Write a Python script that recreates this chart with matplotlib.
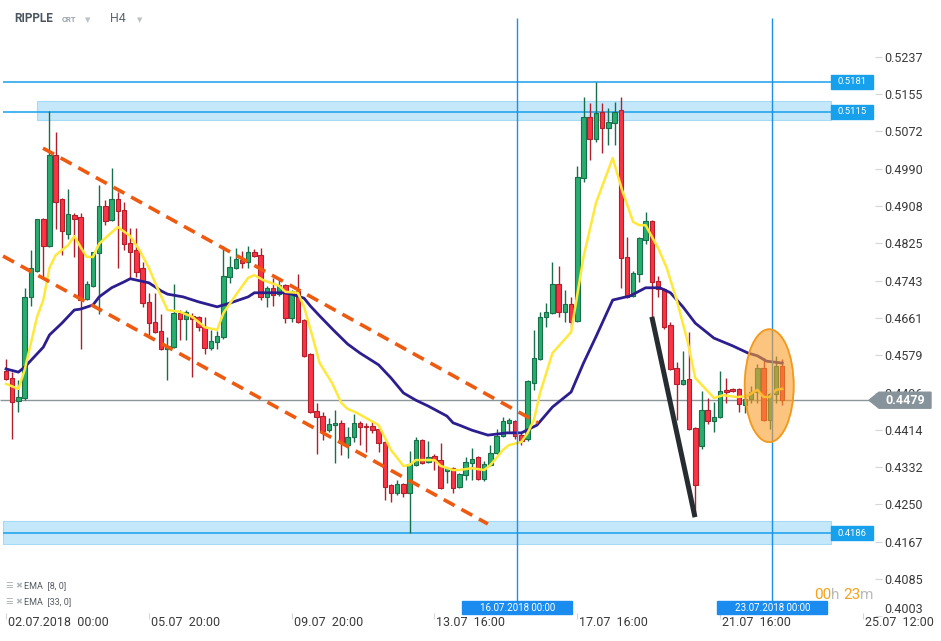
import numpy as np
import matplotlib.pyplot as plt
from matplotlib.patches import Rectangle, Ellipse, Polygon
from matplotlib import transforms

plt.rcParams['font.family'] = ['Roboto', 'DejaVu Sans']
plt.rcParams['lines.scale_dashes'] = False

# RIPPLE H4 candles
opens = [0.4543, 0.4528, 0.4477, 0.4484, 0.4707, 0.4764, 0.4879, 0.4819, 0.5020, 0.4923,
         0.4846, 0.4888, 0.4883, 0.4702, 0.4731, 0.4804, 0.4907, 0.4877, 0.4923, 0.4899,
         0.4826, 0.4810, 0.4771, 0.4696, 0.4652, 0.4632, 0.4592, 0.4596, 0.4671, 0.4658,
         0.4665, 0.4663, 0.4640, 0.4594, 0.4607, 0.4618, 0.4751, 0.4771, 0.4788, 0.4784,
         0.4806, 0.4799, 0.4707, 0.4727, 0.4713, 0.4733, 0.4660, 0.4720, 0.4656, 0.4581,
         0.4455, 0.4444, 0.4413, 0.4424, 0.4429, 0.4380, 0.4398, 0.4429, 0.4422, 0.4422,
         0.4415, 0.4387, 0.4292, 0.4274, 0.4294, 0.4274, 0.4336, 0.4391, 0.4343, 0.4356,
         0.4347, 0.4323, 0.4329, 0.4288, 0.4314, 0.4340, 0.4354, 0.4305, 0.4336, 0.4363,
         0.4400, 0.4429, 0.4433, 0.4402, 0.4393, 0.4517, 0.4570, 0.4663, 0.4671, 0.4735,
         0.4674, 0.4691, 0.4654, 0.4969, 0.5104, 0.5055, 0.5115, 0.5079, 0.5091, 0.5119,
         0.4795, 0.4709, 0.4757, 0.4832, 0.4874, 0.4742, 0.4724, 0.4645, 0.4550, 0.4515,
         0.4526, 0.4418, 0.4378, 0.4457, 0.4433, 0.4442, 0.4502, 0.4504, 0.4504, 0.4468,
         0.4482, 0.4497, 0.4550, 0.4435, 0.4493, 0.4554]
highs = [0.4570, 0.4541, 0.4524, 0.4727, 0.4810, 0.4879, 0.4881, 0.5117, 0.5071, 0.4925,
         0.4945, 0.4892, 0.4892, 0.4742, 0.4806, 0.4954, 0.4921, 0.4991, 0.4938, 0.4916,
         0.4859, 0.4859, 0.4784, 0.4716, 0.4716, 0.4669, 0.4618, 0.4735, 0.4678, 0.4678,
         0.4671, 0.4665, 0.4663, 0.4634, 0.4632, 0.4819, 0.4797, 0.4815, 0.4808, 0.4819,
         0.4813, 0.4815, 0.4731, 0.4749, 0.4744, 0.4735, 0.4722, 0.4757, 0.4658, 0.4583,
         0.4473, 0.4453, 0.4440, 0.4457, 0.4435, 0.4420, 0.4449, 0.4433, 0.4429, 0.4433,
         0.4418, 0.4389, 0.4294, 0.4303, 0.4296, 0.4367, 0.4398, 0.4393, 0.4389, 0.4360,
         0.4385, 0.4332, 0.4332, 0.4318, 0.4354, 0.4374, 0.4356, 0.4345, 0.4380, 0.4415,
         0.4442, 0.4440, 0.4435, 0.4409, 0.4524, 0.4634, 0.4674, 0.4693, 0.4784, 0.4775,
         0.4722, 0.4707, 0.4996, 0.5148, 0.5135, 0.5181, 0.5135, 0.5124, 0.5137, 0.5148,
         0.4839, 0.4764, 0.4839, 0.4894, 0.4877, 0.4753, 0.4727, 0.4652, 0.4563, 0.4588,
         0.4629, 0.4420, 0.4499, 0.4484, 0.4475, 0.4543, 0.4528, 0.4506, 0.4506, 0.4495,
         0.4510, 0.4559, 0.4572, 0.4495, 0.4576, 0.4570]
lows = [0.4524, 0.4393, 0.4453, 0.4479, 0.4687, 0.4762, 0.4749, 0.4817, 0.4857, 0.4799,
        0.4835, 0.4795, 0.4592, 0.4700, 0.4729, 0.4669, 0.4866, 0.4874, 0.4771, 0.4810,
        0.4749, 0.4751, 0.4685, 0.4623, 0.4627, 0.4590, 0.4524, 0.4594, 0.4612, 0.4612,
        0.4530, 0.4632, 0.4581, 0.4590, 0.4592, 0.4614, 0.4738, 0.4768, 0.4771, 0.4771,
        0.4795, 0.4700, 0.4685, 0.4687, 0.4709, 0.4649, 0.4652, 0.4649, 0.4574, 0.4451,
        0.4360, 0.4391, 0.4409, 0.4340, 0.4358, 0.4351, 0.4387, 0.4380, 0.4365, 0.4407,
        0.4365, 0.4259, 0.4254, 0.4270, 0.4266, 0.4186, 0.4334, 0.4338, 0.4340, 0.4325,
        0.4283, 0.4296, 0.4274, 0.4285, 0.4303, 0.4303, 0.4303, 0.4301, 0.4334, 0.4360,
        0.4398, 0.4409, 0.4393, 0.4380, 0.4389, 0.4501, 0.4568, 0.4640, 0.4669, 0.4663,
        0.4652, 0.4640, 0.4652, 0.4960, 0.5009, 0.5049, 0.5024, 0.5042, 0.5042, 0.4727,
        0.4704, 0.4707, 0.4740, 0.4824, 0.4663, 0.4707, 0.4636, 0.4546, 0.4435, 0.4512,
        0.4413, 0.4226, 0.4371, 0.4427, 0.4409, 0.4440, 0.4473, 0.4497, 0.4453, 0.4451,
        0.4473, 0.4473, 0.4433, 0.4415, 0.4473, 0.4468]
closes = [0.4526, 0.4475, 0.4486, 0.4707, 0.4771, 0.4879, 0.4819, 0.5020, 0.4916, 0.4852,
          0.4890, 0.4879, 0.4700, 0.4735, 0.4806, 0.4907, 0.4874, 0.4923, 0.4896, 0.4824,
          0.4806, 0.4762, 0.4693, 0.4649, 0.4629, 0.4592, 0.4599, 0.4671, 0.4658, 0.4674,
          0.4658, 0.4640, 0.4594, 0.4610, 0.4621, 0.4753, 0.4773, 0.4790, 0.4782, 0.4806,
          0.4797, 0.4707, 0.4727, 0.4711, 0.4733, 0.4660, 0.4720, 0.4652, 0.4576, 0.4453,
          0.4442, 0.4411, 0.4427, 0.4429, 0.4385, 0.4398, 0.4429, 0.4420, 0.4420, 0.4413,
          0.4385, 0.4288, 0.4274, 0.4294, 0.4274, 0.4338, 0.4391, 0.4340, 0.4354, 0.4347,
          0.4285, 0.4329, 0.4285, 0.4316, 0.4343, 0.4349, 0.4305, 0.4338, 0.4363, 0.4400,
          0.4433, 0.4435, 0.4400, 0.4389, 0.4521, 0.4572, 0.4663, 0.4674, 0.4735, 0.4674,
          0.4691, 0.4652, 0.4971, 0.5104, 0.5055, 0.5113, 0.5079, 0.5093, 0.5115, 0.4793,
          0.4707, 0.4760, 0.4837, 0.4874, 0.4740, 0.4724, 0.4640, 0.4548, 0.4515, 0.4524,
          0.4415, 0.4292, 0.4457, 0.4433, 0.4442, 0.4499, 0.4497, 0.4499, 0.4471, 0.4482,
          0.4497, 0.4550, 0.4435, 0.4493, 0.4554, 0.4479]

# EMA 8 / EMA 33 as drawn (candle index, value)
ema8_idx = [0, 2, 3, 5, 6, 7, 8, 10, 11, 12, 13, 14, 15, 16, 18, 20, 21.5, 23, 24.3, 26,
            28, 30, 32, 34, 35, 37, 39, 40, 41.4, 44, 45, 47, 48, 49.5, 50.5, 52.5, 54, 55, 56.5, 58.6,
            60, 62, 64, 65, 66, 69, 70, 72, 73, 75, 77, 78, 79, 80, 81, 83, 84, 85, 86, 88,
            91, 93, 95, 97.7, 99.2, 101, 102, 103, 105, 106.4, 108, 109.7, 111, 114, 115.5, 117.7,
            119.3, 121, 122, 123, 124, 125]
ema8_val = [0.4515, 0.4504, 0.4546, 0.4663, 0.4700, 0.4771, 0.4799, 0.4821, 0.4841, 0.4817,
            0.4795, 0.4795, 0.4824, 0.4837, 0.4861, 0.4841, 0.4810, 0.4771, 0.4729, 0.4678,
            0.4674, 0.4663, 0.4640, 0.4634, 0.4671, 0.4711, 0.4749, 0.4755, 0.4744, 0.4731,
            0.4718, 0.4716, 0.4685, 0.4612, 0.4561, 0.4517, 0.4473, 0.4460, 0.4451, 0.4435,
            0.4424, 0.4369, 0.4334, 0.4336, 0.4347, 0.4347, 0.4334, 0.4325, 0.4325, 0.4329,
            0.4325, 0.4336, 0.4352, 0.4369, 0.4380, 0.4387, 0.4407, 0.4435, 0.4495, 0.4583,
            0.4629, 0.4795, 0.4914, 0.5013, 0.4943, 0.4872, 0.4865, 0.4865, 0.4815, 0.4771,
            0.4700, 0.4612, 0.4528, 0.4484, 0.4490, 0.4486, 0.4488, 0.4502, 0.4486, 0.4486,
            0.4502, 0.4504]
ema33_idx = [0, 2, 3, 6, 7, 9, 11, 12, 14, 15, 17, 19, 20, 21, 23, 25, 26, 28.5, 31, 34,
             36, 39, 40, 44.6, 46, 48, 49, 50.5, 52.7, 55, 57, 60, 62, 64, 66, 68, 71, 72, 73, 75,
             77.6, 80.7, 83, 85.5, 88, 91, 93, 95, 97.7, 100.5, 103, 105.3, 107, 109, 111, 114,
             117, 119.5, 121, 122.5, 125]
ema33_val = [0.4548, 0.4541, 0.4552, 0.4596, 0.4623, 0.4649, 0.4678, 0.4680, 0.4689, 0.4707,
             0.4727, 0.4740, 0.4747, 0.4744, 0.4738, 0.4720, 0.4713, 0.4707, 0.4696, 0.4685,
             0.4693, 0.4707, 0.4716, 0.4716, 0.4713, 0.4704, 0.4687, 0.4665, 0.4634, 0.4603,
             0.4583, 0.4557, 0.4528, 0.4495, 0.4479, 0.4466, 0.4444, 0.4429, 0.4424, 0.4413,
             0.4402, 0.4407, 0.4407, 0.4424, 0.4464, 0.4497, 0.4561, 0.4619, 0.4700, 0.4709,
             0.4727, 0.4727, 0.4716, 0.4685, 0.4649, 0.4616, 0.4599, 0.4583, 0.4577, 0.4565,
             0.4561]

# drawn objects
levels = [0.5181, 0.5115, 0.4186]
zones = [(0.5097, 0.5139), (0.4162, 0.4213)]
channel_upper = ([5.96, 85.7], [0.5035, 0.4429])
channel_lower = ([-0.48, 77.6], [0.4797, 0.4206])
drop_line = ([104.0, 110.95], [0.4663, 0.4221])
vline_idx = [82.34, 123.4]
vline_labels = ['16.07.2018 00:00', '23.07.2018 00:00']

ytick_vals = [0.4003, 0.4085, 0.4167, 0.4250, 0.4332, 0.4414, 0.4496, 0.4579,
              0.4661, 0.4743, 0.4825, 0.4908, 0.4990, 0.5072, 0.5155, 0.5237]
xtick_labels = ['02.07.2018  00:00', '05.07  20:00', '09.07  20:00', '13.07  16:00',
                '17.07  16:00', '21.07  16:00', '25.07  12:00']

GREEN, GREEN_EDGE = '#27ad6e', '#18704a'
RED, RED_EDGE = '#fb3344', '#b0202c'
BLUE = '#17a0ec'

fig = plt.figure(figsize=(9.41, 6.41), dpi=100)
ax = fig.add_axes([0, 25 / 641, 875 / 941, 616 / 641])
ax.set_xlim(-0.97, 139.94)
ax.set_ylim(0.4003, 0.53618)
for s in ax.spines.values():
    s.set_visible(False)


def fx(px):
    return px / 941


def fy(py):
    return 1 - py / 641


# zones and levels
ax.fill_between([5, 132.8], zones[0][0], zones[0][1], color='#c4e8fa', ec='#a6d9f3', lw=0.8, zorder=1)
ax.fill_between([-0.5, 132.8], zones[1][0], zones[1][1], color='#c4e8fa', ec='#a6d9f3', lw=0.8, zorder=1)
ax.hlines(levels, -0.5, 132.8, color=BLUE, lw=1.1, zorder=2)
for lv in levels:
    ax.add_patch(Rectangle((132.8, lv - 0.00154), 6.8, 0.00308, color=BLUE, zorder=8, clip_on=False))
    ax.text(136.2, lv, '%.4f' % lv, color='white', fontsize=6.8, ha='center', va='center', zorder=9)

# candles
idx = np.arange(len(opens))
o, h, l, c = (np.array(a) for a in (opens, highs, lows, closes))
up = c >= o
for mask, fc, ec in [(up, GREEN, GREEN_EDGE), (~up, RED, RED_EDGE)]:
    ax.vlines(idx[mask], l[mask], h[mask], color=ec, lw=1, zorder=3)
    body = np.maximum(np.abs(c - o)[mask], 0.00025)
    ax.bar(idx[mask], body, 0.72, bottom=np.minimum(o, c)[mask], color=fc,
           edgecolor=ec, linewidth=0.8, zorder=4)

# EMAs
ax.plot(ema33_idx, ema33_val, color='#2c1e8e', lw=2, zorder=5, solid_joinstyle='round')
ax.plot(ema8_idx, ema8_val, color='#ffe83a', lw=1.8, zorder=5, solid_joinstyle='round')

# last price line
ax.hlines(closes[-1], -1, 139.94, color='#8c969a', lw=1, zorder=2)

# drawings
for xs, ys in (channel_upper, channel_lower):
    ax.plot(xs, ys, color='#ee5a10', lw=2.6, ls=(0, (9, 5.5)), zorder=6)
ax.plot(drop_line[0], drop_line[1], color='#262c30', lw=3.6, zorder=6, solid_capstyle='butt')
ax.add_patch(Ellipse((122.9, 0.4511), 7.9, 0.0249, facecolor='#f99d2a', alpha=0.6,
                     edgecolor='#f39a1e', lw=1.2, zorder=7))
ax.add_patch(Ellipse((122.9, 0.4511), 7.9, 0.0249, facecolor='none',
                     edgecolor='#f39a1e', lw=1.2, zorder=7))

# vertical markers with date boxes
ax.vlines(vline_idx, 0.4036, 0.5322, color='#1e8fe8', lw=1, zorder=6)
for vi, lab in zip(vline_idx, vline_labels):
    ax.add_patch(Rectangle((vi - 8.86, 0.40073), 17.7, 0.00287, color='#1a8cf0', zorder=8))
    ax.text(vi, 0.40216, lab, color='white', fontsize=7, ha='center', va='center', zorder=9)

# y axis on the right
ax.yaxis.tick_right()
ax.set_yticks(ytick_vals)
ax.set_yticklabels(['%.4f' % v for v in ytick_vals])
ax.tick_params(axis='y', length=5, color='#d5d5d5', labelsize=9, labelcolor='#3a3a3a', pad=2)
ax.get_yticklabels()[0].set_va('bottom')

# x axis
tick_idx = np.arange(0, 139, 23)
ax.set_xticks(tick_idx)
ax.set_xticklabels([])
ax.tick_params(axis='x', length=5, direction='inout', color='#d5d5d5')
for ti, lab in zip(tick_idx, xtick_labels):
    ax.annotate(lab, (ti, 0), xycoords=('data', 'axes fraction'), xytext=(2, -7),
                textcoords='offset pixels', ha='left', va='center', fontsize=9, color='#3a3a3a')

# current price tag
tr = transforms.blended_transform_factory(fig.transFigure, ax.transData)
p = closes[-1]
dh = 8 / 4533
ax.add_patch(Polygon([(fx(869), p), (fx(879), p + dh), (fx(931), p + dh), (fx(931), p - dh),
                      (fx(879), p - dh)], closed=True, color='#87939a', transform=tr,
                     clip_on=False, zorder=10))
ax.text(fx(905), p, '%.4f' % p, transform=tr, color='white', fontsize=9, fontweight='bold',
        ha='center', va='center', zorder=11)

# header
fig.text(fx(14), fy(19), 'RIPPLE', fontsize=8.5, fontweight='bold', color='#4a5560', va='center')
fig.text(fx(62), fy(19), 'CRT', fontsize=5.5, fontweight='bold', color='#9aa4ad', va='center')
fig.text(fx(88), fy(20), '▼', fontsize=5, color='#b9c0c6', va='center', ha='center',
         family='DejaVu Sans')
fig.text(fx(110), fy(19), 'H4', fontsize=9, color='#5b6770', va='center')
fig.text(fx(140), fy(20), '▼', fontsize=5, color='#b9c0c6', va='center', ha='center',
         family='DejaVu Sans')

# indicator legend
for yy, name in [(586, 'EMA  [8, 0]'), (602, 'EMA  [33, 0]')]:
    fig.text(fx(5), fy(yy), '☰', fontsize=6, color='#a3a9ae', va='center', family='DejaVu Sans')
    fig.text(fx(15), fy(yy), '✖', fontsize=6, color='#b3b8bd', va='center', family='DejaVu Sans')
    fig.text(fx(24), fy(yy), name, fontsize=6.5, color='#555b60', va='center')

# candle timer
for xx, s, col in [(814, '00', '#f5a31a'), (831, 'h', '#bbbbbb'), (843, '23', '#f5a31a'),
                   (860, 'm', '#bbbbbb')]:
    fig.text(fx(xx), fy(595), s, fontsize=11, color=col, va='center')

fig.savefig('out.png', dpi=100)
